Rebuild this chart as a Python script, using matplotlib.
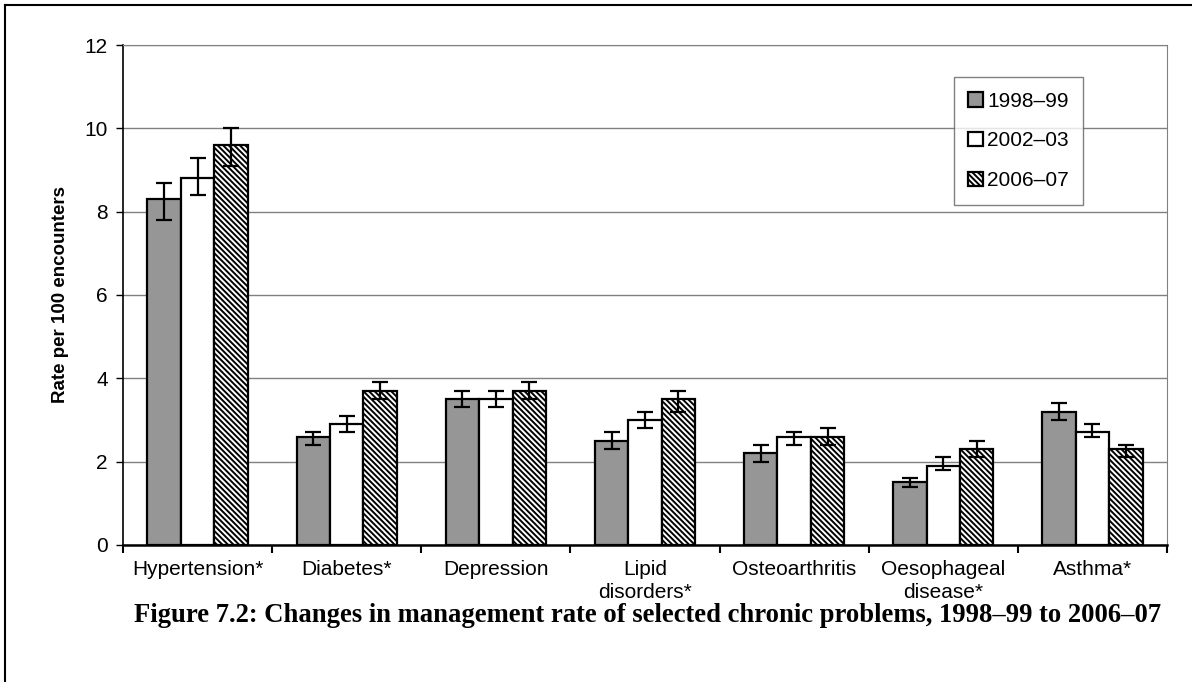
import matplotlib.pyplot as plt
import numpy as np
from matplotlib.lines import Line2D

plt.rcParams['font.family'] = ['Liberation Sans', 'DejaVu Sans']
plt.rcParams['hatch.linewidth'] = 1.4


# Categories and series values
categories = ['Hypertension*', 'Diabetes*', 'Depression', 'Lipid\ndisorders*',
              'Osteoarthritis', 'Oesophageal\ndisease*', 'Asthma*']
years = ['1998–99', '2002–03', '2006–07']

rate_1998 = [8.3, 2.6, 3.5, 2.5, 2.2, 1.5, 3.2]
rate_2002 = [8.8, 2.9, 3.5, 3.0, 2.6, 1.9, 2.7]
rate_2006 = [9.6, 3.7, 3.7, 3.5, 2.6, 2.3, 2.3]

# 95% confidence limits (lower, upper)
lo_1998 = [7.8, 2.4, 3.3, 2.3, 2.0, 1.4, 3.0]
hi_1998 = [8.7, 2.7, 3.7, 2.7, 2.4, 1.6, 3.4]
lo_2002 = [8.4, 2.7, 3.3, 2.8, 2.4, 1.8, 2.6]
hi_2002 = [9.3, 3.1, 3.7, 3.2, 2.7, 2.1, 2.9]
lo_2006 = [9.1, 3.5, 3.5, 3.2, 2.4, 2.1, 2.1]
hi_2006 = [10.0, 3.9, 3.9, 3.7, 2.8, 2.5, 2.4]

y_ticks = [0, 2, 4, 6, 8, 10, 12]


fig = plt.figure(figsize=(11.92, 6.82), dpi=100)
ax = fig.add_axes([0.1032, 0.2009, 0.979 - 0.1032, 0.934 - 0.2009])

x = np.arange(len(categories))
w = 0.224

series = [
    (rate_1998, lo_1998, hi_1998, dict(facecolor='#969696', hatch=None)),
    (rate_2002, lo_2002, hi_2002, dict(facecolor='white', hatch=None)),
    (rate_2006, lo_2006, hi_2006, dict(facecolor='white', hatch='\\' * 6)),
]

for i, (vals, lo, hi, style) in enumerate(series):
    vals = np.array(vals)
    yerr = [vals - np.array(lo), np.array(hi) - vals]
    ax.bar(x + (i - 1) * w, vals, width=w, edgecolor='black', linewidth=1.6,
           label=years[i], zorder=3, **style)
    ax.errorbar(x + (i - 1) * w, vals, yerr=yerr, fmt='none', ecolor='black',
                elinewidth=1.6, capsize=5.5, capthick=1.6, zorder=4)

# Axes, grid and ticks
ax.set_xlim(-0.5, len(categories) - 0.5)
ax.set_ylim(0, 12)
ax.set_yticks(y_ticks)
ax.tick_params(axis='y', labelsize=15, length=5, width=1, direction='out',
               pad=6, color='black')
ax.yaxis.grid(True, color='#808080', linewidth=1)
ax.set_axisbelow(True)

ax.set_xticks(np.arange(len(categories) + 1) - 0.5)
ax.set_xticklabels([])
ax.tick_params(axis='x', which='major', length=6, width=1.5, direction='out')
ax.set_xticks(x, minor=True)
ax.set_xticklabels(categories, minor=True, fontsize=15, linespacing=1.25)
ax.tick_params(axis='x', which='minor', length=0, pad=11)

ax.spines['left'].set_linewidth(1.2)
ax.spines['bottom'].set_linewidth(1.8)
ax.spines['top'].set_color('#808080')
ax.spines['right'].set_color('#808080')

ax.set_ylabel('Rate per 100 encounters', fontsize=13.5, fontweight='bold',
              labelpad=11)

# Legend
leg = ax.legend(loc='upper left', bbox_to_anchor=(0.8, 0.887),
                bbox_transform=fig.transFigure, fontsize=15, frameon=True,
                fancybox=False, edgecolor='#606060', borderpad=0.7,
                handlelength=0.7, handleheight=0.7, handletextpad=0.2,
                labelspacing=1.0, borderaxespad=0)
leg.get_frame().set_linewidth(1)

# Caption under the chart
fig.text(0.5435, 0.097,
         'Figure 7.2: Changes in management rate of selected chronic problems,'
         ' 1998–99 to 2006–07',
         ha='center', va='center', fontsize=19.2, fontweight='bold',
         family=['Liberation Serif', 'DejaVu Serif'])

# Frame round the figure (left and top only, the rest is cropped)
fig.add_artist(Line2D([0.0045, 0.0045], [0, 0.993], color='black',
                      linewidth=1.5, transform=fig.transFigure))
fig.add_artist(Line2D([0.0045, 1], [0.993, 0.993], color='black',
                      linewidth=1.5, transform=fig.transFigure))

fig.savefig('out.png', dpi=100)
